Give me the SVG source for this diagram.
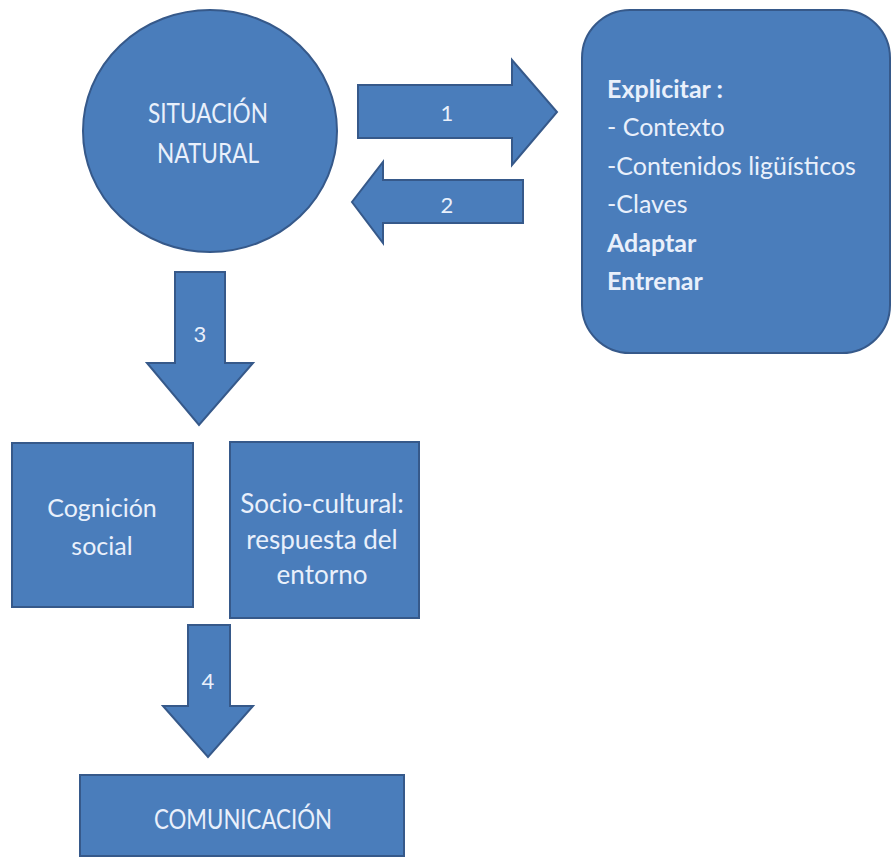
<svg xmlns="http://www.w3.org/2000/svg" width="892" height="858" viewBox="0 0 892 858">
<style>
.shape{fill:#4a7dbb;stroke:#36598a;stroke-width:2}
.t{font-family:Lato,"Open Sans","Liberation Sans",sans-serif;fill:#e9f0fb;font-size:22px}
.c{text-anchor:middle}
.b{font-weight:bold}
.caps{font-size:26px}
.list{font-size:25px}
.cog{font-size:25px}
.soc{font-size:26px}
</style>
<rect width="892" height="858" fill="#ffffff"/>
<g id="connectors">
  <g id="arrow1">
    <polygon class="shape" points="358,85 512,85 512,60 557,112 512,165 512,138 358,138"/>
    <text class="t c" x="447" y="121">1</text>
  </g>
  <g id="arrow2">
    <polygon class="shape" points="523,180 383,180 383,162 352,202 383,243 383,223 523,223"/>
    <text class="t c" x="447" y="213">2</text>
  </g>
  <g id="arrow3">
    <polygon class="shape" points="175,272 225,272 225,363 253,363 199,425 147,363 175,363"/>
    <text class="t c" x="200" y="342">3</text>
  </g>
  <g id="arrow4">
    <polygon class="shape" points="188,625 230,625 230,706 253,706 208,757 163,706 188,706"/>
    <text class="t c" x="208" y="689">4</text>
  </g>
</g>
<g id="situacion">
  <ellipse class="shape" cx="210" cy="131" rx="127" ry="121"/>
  <text class="t c caps" x="208" y="123" textLength="120" lengthAdjust="spacingAndGlyphs">SITUACIÓN</text>
  <text class="t c caps" x="208" y="163" textLength="102" lengthAdjust="spacingAndGlyphs">NATURAL</text>
</g>
<g id="explicitar">
  <rect class="shape" x="582" y="10" width="308" height="343" rx="48" ry="48"/>
  <text class="t list" x="607" y="98"><tspan class="b">Explicitar :</tspan><tspan x="607" dy="38.4">- Contexto</tspan><tspan x="607" dy="38.4">-Contenidos ligüísticos</tspan><tspan x="607" dy="38.4">-Claves</tspan><tspan class="b" x="607" dy="38.4">Adaptar</tspan><tspan class="b" x="607" dy="38.4">Entrenar</tspan></text>
</g>
<g id="cognicion">
  <rect class="shape" x="12" y="443" width="181" height="164"/>
  <text class="t c cog" x="102" y="517">Cognición</text>
  <text class="t c cog" x="102" y="555">social</text>
</g>
<g id="sociocultural">
  <rect class="shape" x="230" y="442" width="189" height="176"/>
  <text class="t c soc" x="322" y="513">Socio-cultural:</text>
  <text class="t c soc" x="322" y="549">respuesta del</text>
  <text class="t c soc" x="322" y="584">entorno</text>
</g>
<g id="comunicacion">
  <rect class="shape" x="80" y="775" width="324" height="81"/>
  <text class="t c caps" x="243" y="829" textLength="178" lengthAdjust="spacingAndGlyphs">COMUNICACIÓN</text>
</g>
</svg>
